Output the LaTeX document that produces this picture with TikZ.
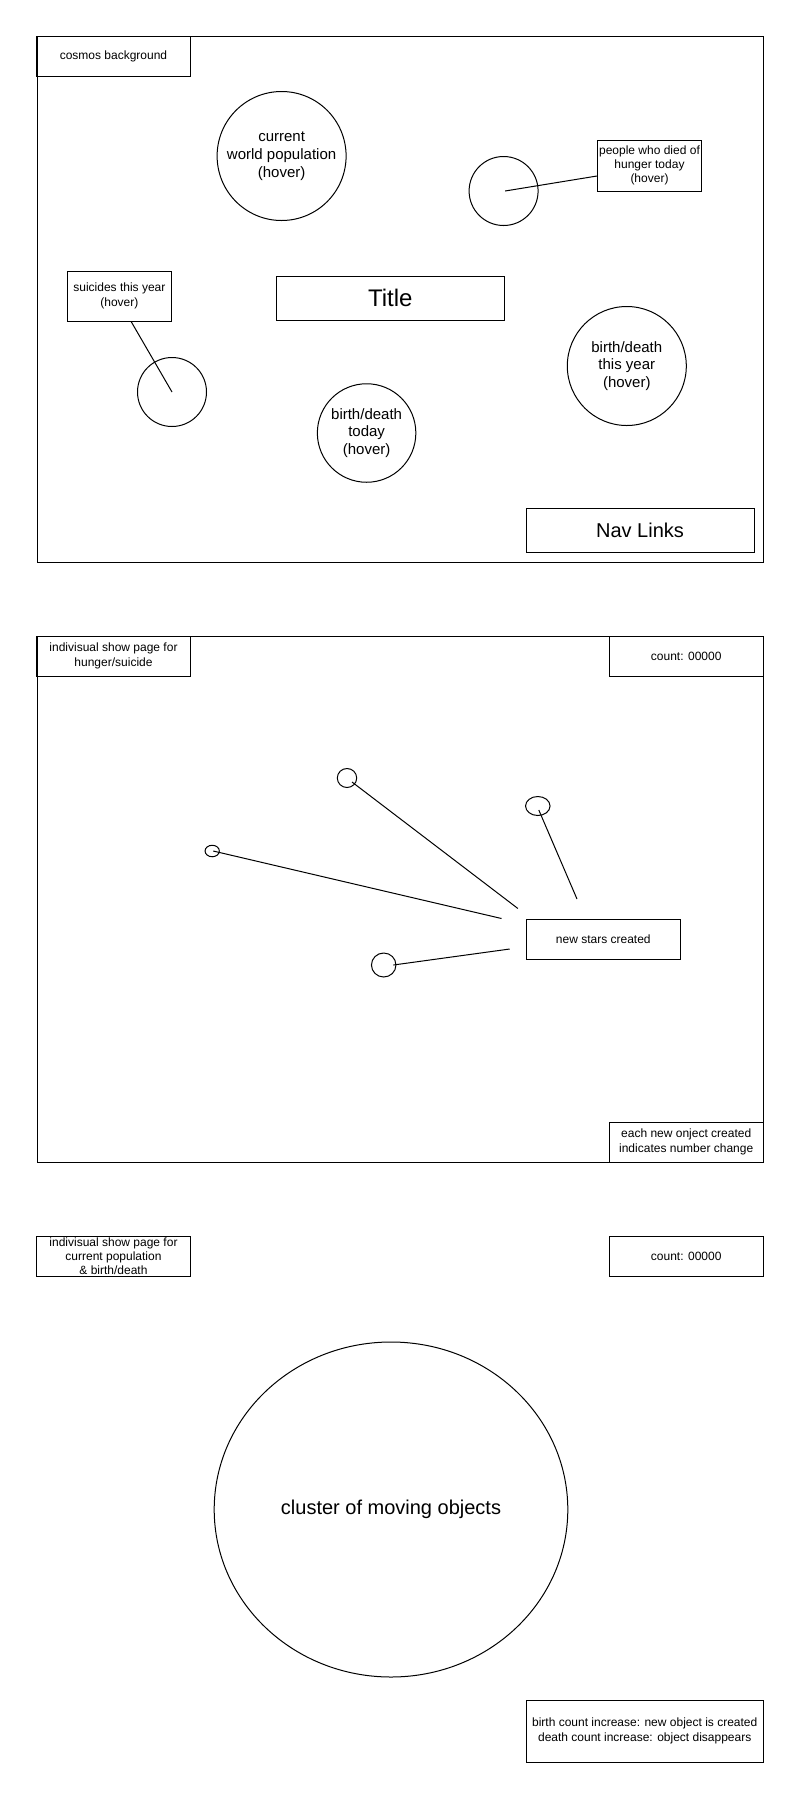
\documentclass[tikz,border=0pt]{standalone}
\usepackage{fontspec}
\setmainfont{Liberation Sans}
\usetikzlibrary{shapes.geometric}

\tikzset{
  box/.style={draw, line width=1pt, rectangle, inner sep=0pt, align=center, font=\fontsize{12}{14.3}\selectfont},
  bubble/.style={draw, line width=1pt, circle, inner sep=0pt, align=center, font=\fontsize{15}{17.8}\selectfont},
  star/.style={draw, line width=1pt, ellipse, inner sep=0pt, align=center},
  link/.style={line width=1pt}
}

\begin{document}
\begin{tikzpicture}[x=1pt,y=-1pt]
		\fill[white] (0,0) rectangle (800,1800);
		\useasboundingbox (0,0) rectangle (800,1800);

		\draw[link] (37,36) rectangle (763,562);
		\node[box, minimum width=153.5pt, minimum height=40pt] (cosmos) at (113.5,56) {cosmos background};
		\node[bubble, minimum size=129pt] (worldpop) at (281.6,156) {current\\world population\\(hover)};
		\node[bubble, minimum size=69pt] (hunger) at (503.6,191) {};
		\node[box, minimum width=104pt, minimum height=51pt] (hungerbox) at (649.5,165.5) {people who died of\\hunger today\\(hover)};
		\node[box, minimum width=104pt, minimum height=50pt] (suicidebox) at (119.4,296) {suicides this year\\(hover)};
		\node[bubble, minimum size=69pt] (suicides) at (172,392) {};
		\node[box, minimum width=228.6pt, minimum height=44pt, font=\fontsize{24}{28}\selectfont] (title) at (390.3,298) {Title};
		\node[bubble, minimum size=119pt] (yearbd) at (626.8,366) {birth/death\\this year\\(hover)};
		\node[bubble, minimum size=98.5pt] (todaybd) at (366.6,433) {birth/death\\today\\(hover)};
		\node[box, minimum width=228pt, minimum height=44pt, font=\fontsize{20}{24}\selectfont] (nav) at (640,530) {Nav Links};
		\draw[link] ([xshift=1.5pt]hunger.center) -- ([yshift=-10.5pt]hungerbox.west);
		\draw[link] ([xshift=11.7pt]suicidebox.south) -- (suicides.center);

		\draw[link] (37,636) rectangle (763,1162);
		\node[box, minimum width=153.5pt, minimum height=40pt] (hsheader) at (113.5,656) {indivisual show page for\\hunger/suicide};
		\node[box, minimum width=154pt, minimum height=40pt] (hscount) at (686.2,656) {count: 00000};
		\node[box, minimum width=154pt, minimum height=40pt] (hsnote) at (686.2,1142) {each new onject created\\indicates number change};
		\node[box, minimum width=154.6pt, minimum height=40pt] (newstars) at (603.3,939) {new stars created};
		\node[star, minimum width=19.4pt, minimum height=19pt] (starA) at (347,778) {};
		\node[star, minimum width=24.5pt, minimum height=19pt] (starB) at (537.8,806) {};
		\node[star, minimum width=14.3pt, minimum height=11.5pt] (starC) at (212.2,851) {};
		\node[star, minimum width=24.5pt, minimum height=24pt] (starD) at (383.7,965) {};
		\coordinate (endA) at (517.9,908.5);
		\coordinate (endB) at (577,899);
		\coordinate (endC) at (501.5,918.5);
		\coordinate (endD) at (509.7,949);
		\draw[link] ([xshift=5pt,yshift=-4pt]starA.center) -- (endA);
		\draw[link] ([xshift=1pt,yshift=-4pt]starB.center) -- (endB);
		\draw[link] ([xshift=1pt]starC.center) -- (endC);
		\draw[link] ([xshift=9.7pt]starD.center) -- (endD);

		\node[box, minimum width=153.5pt, minimum height=40pt, font=\fontsize{12}{13.9}\selectfont] (popheader) at (113.5,1256) {indivisual show page for\\current population\\\& birth/death};
		\node[box, minimum width=154pt, minimum height=40pt] (popcount) at (686.2,1256) {count: 00000};
		\node[star, minimum width=353.6pt, minimum height=335pt, font=\fontsize{20}{24}\selectfont] (cluster) at (391,1509.5) {cluster of moving objects};
		\node[box, minimum width=237.3pt, minimum height=62pt] (popnote) at (644.7,1731) {birth count increase: new object is created\\death count increase: object disappears};
	\end{tikzpicture}
\end{document}
